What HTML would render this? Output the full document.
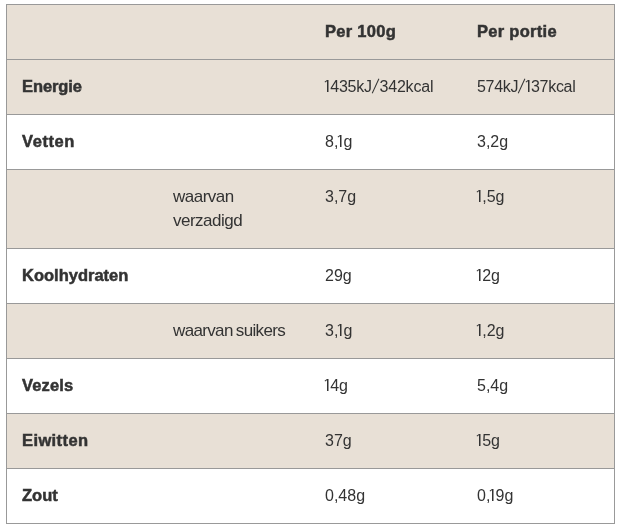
<!DOCTYPE html>
<html><head><meta charset="utf-8"><style>
html,body{margin:0;padding:0;background:#fff;}
body{width:620px;height:528px;overflow:hidden;position:relative;font-family:"Liberation Sans",sans-serif;color:#333;}
.r{position:absolute;left:6px;width:607px;border:1px solid #999;border-bottom:0;}
.r.last{border-bottom:1px solid #999;}
.r.b{background:#e8e0d6;}
.r.w{background:#fff;}
.t{position:absolute;white-space:nowrap;will-change:transform;font-size:16px;line-height:24px;margin-top:16px;}
.n1{display:inline-block;width:5.2px;position:relative;color:transparent;}
.n1::before{content:"";position:absolute;left:1.9px;width:1px;top:5.3px;height:11.7px;background:#333;box-shadow:1px 0 0 rgba(51,51,51,.5);}
.n1::after{content:"";position:absolute;left:-0.9px;top:5.3px;width:3px;height:1.2px;background:#333;transform:rotate(-36deg);transform-origin:100% 0;}
.sl{display:inline-block;width:7.6px;position:relative;color:transparent;}
.sl::before{content:"";position:absolute;left:2.8px;top:3.3px;width:1.35px;height:16.3px;background:#333;transform:rotate(24.7deg);}
.t.s{font-size:17px;letter-spacing:-0.5px;margin-top:15.6px;}
.t.b{margin-top:15.4px;font-weight:bold;font-size:16.5px;-webkit-text-stroke:0.5px #333;}
</style></head><body>
<div class="r b" style="top:4px;height:54px"></div>
<div class="t b" style="left:325px;top:4px;letter-spacing:0.29px">Per 100g</div>
<div class="t b" style="left:477px;top:4px;letter-spacing:0.29px">Per portie</div>
<div class="r b" style="top:59px;height:54px"></div>
<div class="t b" style="left:22px;top:59px;letter-spacing:-0.1px">Energie</div>
<div class="t" style="left:325px;top:59px;letter-spacing:-0.2px"><span class="n1">1</span>435kJ<span class="sl">/</span>342kcal</div>
<div class="t" style="left:477px;top:59px;letter-spacing:-0.3px">574kJ<span class="sl">/</span><span class="n1">1</span>37kcal</div>
<div class="r w" style="top:114px;height:54px"></div>
<div class="t b" style="left:22px;top:114px;letter-spacing:0.58px">Vetten</div>
<div class="t" style="left:325px;top:114px">8,<span class="n1">1</span>g</div>
<div class="t" style="left:477px;top:114px">3,2g</div>
<div class="r b" style="top:169px;height:78px"></div>
<div class="t s" style="left:173px;top:169px">waarvan<br>verzadigd</div>
<div class="t" style="left:325px;top:169px">3,7g</div>
<div class="t" style="left:477px;top:169px"><span class="n1">1</span>,5g</div>
<div class="r w" style="top:248px;height:54px"></div>
<div class="t b" style="left:22px;top:248px">Koolhydraten</div>
<div class="t" style="left:325px;top:248px">29g</div>
<div class="t" style="left:477px;top:248px"><span class="n1">1</span>2g</div>
<div class="r b" style="top:303px;height:54px"></div>
<div class="t s" style="left:173px;top:303px;word-spacing:-1px;letter-spacing:-0.65px">waarvan suikers</div>
<div class="t" style="left:325px;top:303px">3,<span class="n1">1</span>g</div>
<div class="t" style="left:477px;top:303px"><span class="n1">1</span>,2g</div>
<div class="r w" style="top:358px;height:54px"></div>
<div class="t b" style="left:22px;top:358px;letter-spacing:0.14px">Vezels</div>
<div class="t" style="left:325px;top:358px"><span class="n1">1</span>4g</div>
<div class="t" style="left:477px;top:358px">5,4g</div>
<div class="r b" style="top:413px;height:54px"></div>
<div class="t b" style="left:22px;top:413px;letter-spacing:0.4px">Eiwitten</div>
<div class="t" style="left:325px;top:413px">37g</div>
<div class="t" style="left:477px;top:413px"><span class="n1">1</span>5g</div>
<div class="r w last" style="top:468px;height:54px"></div>
<div class="t b" style="left:22px;top:468px">Zout</div>
<div class="t" style="left:325px;top:468px">0,48g</div>
<div class="t" style="left:477px;top:468px">0,<span class="n1">1</span>9g</div>
</body></html>
